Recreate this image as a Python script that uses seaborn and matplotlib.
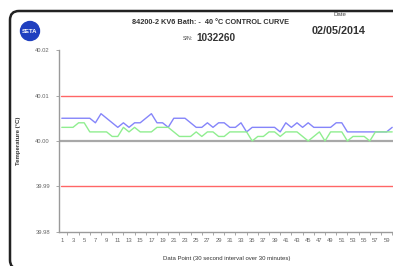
import numpy as np
import pandas as pd
import matplotlib
matplotlib.use("Agg")
import matplotlib.pyplot as plt
from matplotlib.patches import Ellipse, PathPatch
from matplotlib.path import Path
import seaborn as sns

points = list(range(1, 61))
series_a = [40.005, 40.005, 40.005, 40.005, 40.005, 40.005, 40.004, 40.006, 40.005, 40.004,
            40.003, 40.004, 40.003, 40.004, 40.004, 40.005, 40.006, 40.004, 40.004, 40.003,
            40.005, 40.005, 40.005, 40.004, 40.003, 40.003, 40.004, 40.003, 40.004, 40.004,
            40.003, 40.003, 40.004, 40.002, 40.003, 40.003, 40.003, 40.003, 40.003, 40.002,
            40.004, 40.003, 40.004, 40.003, 40.004, 40.003, 40.003, 40.003, 40.003, 40.004,
            40.004, 40.002, 40.002, 40.002, 40.002, 40.002, 40.002, 40.002, 40.002, 40.003]
series_b = [40.003, 40.003, 40.003, 40.004, 40.004, 40.002, 40.002, 40.002, 40.002, 40.001,
            40.001, 40.003, 40.002, 40.003, 40.002, 40.002, 40.002, 40.003, 40.003, 40.003,
            40.002, 40.001, 40.001, 40.001, 40.002, 40.001, 40.002, 40.002, 40.001, 40.001,
            40.002, 40.002, 40.002, 40.002, 40.000, 40.001, 40.001, 40.002, 40.002, 40.001,
            40.002, 40.002, 40.002, 40.001, 40.000, 40.001, 40.002, 40.000, 40.002, 40.002,
            40.002, 40.000, 40.001, 40.001, 40.001, 40.000, 40.002, 40.002, 40.002, 40.002]
setpoint = 40.00
upper_limit = 40.01
lower_limit = 39.99
y_ticks = [39.98, 39.99, 40.00, 40.01, 40.02]
x_tick_labels = list(range(1, 60, 2))

title = "84200-2 KV6 Bath: -  40 \u00b0C CONTROL CURVE"
serial_label = "S/N:"
serial = "1032260"
date_label = "Date"
date = "02/05/2014"
x_label = "Data Point (30 second interval over 30 minutes)"
y_label = "Temperature (\u00b0C)"

sns.set_style("white")
plt.rcParams["font.family"] = ["Liberation Sans", "DejaVu Sans"]

W, H = 393, 266
fig = plt.figure(figsize=(W / 100, H / 100), dpi=100)

def fx(px):
    return px / W

def fy(py):
    return 1 - py / H

# report frame: top and left edges with rounded corners (pixel coords -> figure fraction)
r = 9
pts_px = [(400, 11), (10 + r, 11), (10, 11), (10, 11 + r), (10, 269 - r), (10, 269), (10 + r, 269), (400, 269)]
codes = [Path.MOVETO, Path.LINETO, Path.CURVE3, Path.CURVE3, Path.LINETO, Path.CURVE3, Path.CURVE3, Path.LINETO]
frame = PathPatch(Path([(fx(x), fy(y)) for x, y in pts_px], codes),
                  transform=fig.transFigure, fill=False, edgecolor="#222222", linewidth=1.8)
fig.patches.append(frame)

# logo
logo = Ellipse((fx(30), fy(31)), 19 / W, 19 / H, transform=fig.transFigure,
               facecolor="#1f3fbf", edgecolor="#1f3fbf", zorder=2)
fig.patches.append(logo)
fig.text(fx(30), fy(31.5), "SETA", color="white", fontsize=4.3, fontweight="bold",
         ha="center", va="center", zorder=3)

fig.text(fx(210), fy(23), title, fontsize=5.3, fontweight="bold",
         ha="center", va="center", color="#333333")
fig.text(fx(193), fy(38.5), serial_label, fontsize=3.8, ha="right", va="center", color="#444444")
fig.text(fx(196), fy(38), serial, fontsize=7.2, fontweight="bold", ha="left", va="center",
         color="#333333")
fig.text(fx(340), fy(15), date_label, fontsize=4.4, ha="center", va="center", color="#444444")
fig.text(fx(339), fy(31), date, fontsize=7.8, fontweight="bold", ha="center", va="center",
         color="#333333")

left, right, top, bottom = 59, 395, 50, 232
ax = fig.add_axes([fx(left), fy(bottom), fx(right - left), fy(top) - fy(bottom)])

df = pd.DataFrame({"point": points + points,
                   "temp": series_a + series_b,
                   "series": ["A"] * len(points) + ["B"] * len(points)})

ax.axhline(upper_limit, color="#ff6666", linewidth=1.0, xmin=0.005)
ax.axhline(lower_limit, color="#ff6666", linewidth=1.0, xmin=0.005)
ax.axhline(setpoint, color="#a8a8a8", linewidth=1.6)

sns.lineplot(data=df, x="point", y="temp", hue="series",
             palette={"A": "#8585fa", "B": "#90ee90"}, linewidth=1.0,
             legend=False, ax=ax, zorder=3)

ax.set_xlim(0.5, 60.5)
ax.set_ylim(39.98, 40.02)
ax.set_yticks(y_ticks)
ax.set_yticklabels([f"{v:.2f}" for v in y_ticks])
ax.set_xticks(x_tick_labels)
ax.set_xticklabels([str(v) for v in x_tick_labels])
ax.set_xticks(points, minor=True)

for s in ["top", "right"]:
    ax.spines[s].set_visible(False)
for s in ["left", "bottom"]:
    ax.spines[s].set_color("#9a9a9a")
    ax.spines[s].set_linewidth(1.0)

ax.tick_params(axis="both", which="major", labelsize=4.2, labelcolor="#666666",
               color="#9a9a9a", length=2.5, width=0.6, pad=2, direction="out")
ax.tick_params(axis="x", which="minor", length=2.5, width=0.6, color="#9a9a9a",
               direction="out", bottom=True)
ax.tick_params(axis="y", which="major", left=True, pad=4)

ax.set_xlabel(x_label, fontsize=4.3, color="#333333", labelpad=9)
ax.set_ylabel(y_label, fontsize=4.3, color="#333333", fontweight="bold", labelpad=10)

fig.savefig("out.png", dpi=100)
